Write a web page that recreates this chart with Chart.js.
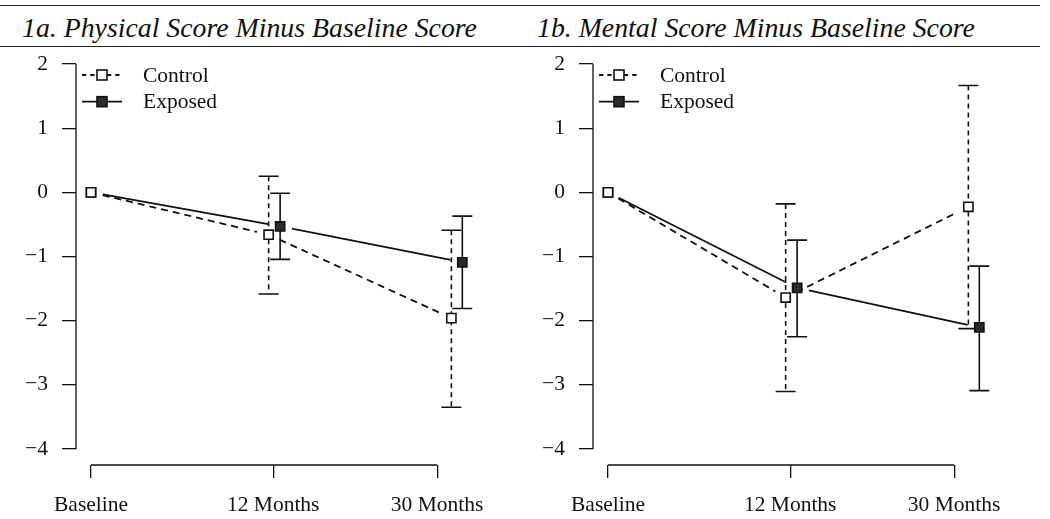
<!DOCTYPE html>
<html>
<head>
<meta charset="utf-8">
<script src="https://cdn.jsdelivr.net/npm/chart.js@4.4.1/dist/chart.umd.min.js"></script>
<style>
  html, body { margin: 0; padding: 0; background: #fff; }
  #marco { position: relative; width: 1050px; height: 519px; overflow: hidden; }
  .raya { position: absolute; left: 0; width: 1040px; height: 0; border-top: 1.5px solid #222; }
  .titulo { position: absolute; top: 14px; font-family: 'Liberation Serif', 'Times New Roman', serif;
            font-style: italic; font-size: 27.8px; line-height: 27px; color: #111; white-space: nowrap; }
  .panel { position: absolute; top: 0; width: 517px; height: 519px; }
</style>
</head>
<body>
<div id="marco">
  <div class="raya" style="top:5px"></div>
  <div class="raya" style="top:46px"></div>
  <div class="titulo" style="left:22px">1a. Physical Score Minus Baseline Score</div>
  <div class="titulo" style="left:537px">1b. Mental Score Minus Baseline Score</div>
  <div class="panel" style="left:0"><canvas id="grafico1"></canvas></div>
  <div class="panel" style="left:517px"><canvas id="grafico2"></canvas></div>
</div>
<script>
// Datos
const etiquetasX = ['Baseline', '12 Months', '30 Months'];
const posicionesX = [0, 1, 1.9];
const ticksY = [2, 1, 0, -1, -2, -3, -4];

// posiciones x de los puntos (ligeramente desplazados por grupo)
const xControl = [0, 0.975, 1.978];
const xExpuesto = [0, 1.038, 2.038];

// 1a. Physical
const fisicoControl = [0, -0.66, -1.96];
const fisicoControlInf = [0, -1.585, -3.35];
const fisicoControlSup = [0, 0.25, -0.59];
const fisicoExpuesto = [0, -0.53, -1.09];
const fisicoExpuestoInf = [0, -1.045, -1.81];
const fisicoExpuestoSup = [0, -0.015, -0.37];

// 1b. Mental
const mentalControl = [0, -1.64, -0.225];
const mentalControlInf = [0, -3.105, -2.125];
const mentalControlSup = [0, -0.18, 1.665];
const mentalExpuesto = [0, -1.49, -2.105];
const mentalExpuestoInf = [0, -2.25, -3.09];
const mentalExpuestoSup = [0, -0.745, -1.15];

const FUENTE = "'Liberation Serif', 'Times New Roman', serif";
const NEGRO = '#111';

// Líneas con hueco alrededor de cada punto y barras de error
const pluginBarras = {
    id: 'barrasError',
    beforeDatasetsDraw(chart) {
        const ctx = chart.ctx;
        const xs = chart.scales.x, ys = chart.scales.y;
        chart.data.datasets.slice().reverse().forEach(ds => {
            ctx.save();
            ctx.strokeStyle = NEGRO;
            ctx.lineWidth = 1.8;
            ctx.setLineDash(ds.guiones);
            const pts = ds.data.map(p => ({ x: xs.getPixelForValue(p.x), y: ys.getPixelForValue(p.y) }));
            for (let i = 0; i < pts.length - 1; i++) {
                const a = pts[i], b = pts[i + 1];
                const dx = b.x - a.x, dy = b.y - a.y, L = Math.hypot(dx, dy);
                const g = 12;
                ctx.beginPath();
                ctx.moveTo(a.x + dx * g / L, a.y + dy * g / L);
                ctx.lineTo(b.x - dx * g / L, b.y - dy * g / L);
                ctx.stroke();
            }
            ctx.lineWidth = 1.6;
            ds.data.forEach((p, i) => {
                if (ds.inf[i] === ds.sup[i]) return;
                const x = xs.getPixelForValue(p.x);
                const y1 = ys.getPixelForValue(ds.inf[i]);
                const y2 = ys.getPixelForValue(ds.sup[i]);
                ctx.setLineDash(ds.guionesBarra);
                ctx.beginPath();
                ctx.moveTo(x, y2);
                ctx.lineTo(x, y1);
                ctx.stroke();
                ctx.setLineDash([]);
                ctx.beginPath();
                ctx.moveTo(x - 10, y1); ctx.lineTo(x + 10, y1);
                ctx.moveTo(x - 10, y2); ctx.lineTo(x + 10, y2);
                ctx.stroke();
            });
            ctx.restore();
        });
    }
};

// Ejes al estilo R: sólo entre el primer y el último tick
const pluginEjes = {
    id: 'ejes',
    afterDraw(chart) {
        const ctx = chart.ctx, area = chart.chartArea;
        const xs = chart.scales.x, ys = chart.scales.y;
        ctx.save();
        ctx.strokeStyle = NEGRO;
        ctx.lineWidth = 1.3;
        ctx.beginPath();
        ctx.moveTo(area.left, ys.getPixelForValue(ticksY[0]));
        ctx.lineTo(area.left, ys.getPixelForValue(ticksY[ticksY.length - 1]));
        ctx.moveTo(xs.getPixelForValue(posicionesX[0]), area.bottom);
        ctx.lineTo(xs.getPixelForValue(posicionesX[posicionesX.length - 1]), area.bottom);
        ctx.stroke();
        ctx.restore();
    }
};

// Leyenda dentro del área del gráfico
const pluginLeyenda = {
    id: 'leyenda',
    afterDraw(chart) {
        const ctx = chart.ctx, area = chart.chartArea;
        chart.data.datasets.forEach((ds, i) => {
            const y = area.top + 27 + i * 26.7;
            const x0 = area.left + 6, x1 = area.left + 46, xm = (x0 + x1) / 2;
            ctx.save();
            ctx.strokeStyle = NEGRO;
            ctx.lineWidth = 1.8;
            ctx.setLineDash(ds.guionesLeyenda);
            ctx.beginPath();
            ctx.moveTo(x0, y);
            ctx.lineTo(x1, y);
            ctx.stroke();
            ctx.setLineDash([]);
            const s = 5;
            ctx.fillStyle = ds.pointBackgroundColor;
            ctx.lineWidth = 1.6;
            ctx.fillRect(xm - s, y - s, 2 * s, 2 * s);
            ctx.strokeRect(xm - s, y - s, 2 * s, 2 * s);
            ctx.fillStyle = NEGRO;
            ctx.font = '21.5px ' + FUENTE;
            ctx.textBaseline = 'middle';
            ctx.textAlign = 'left';
            ctx.fillText(ds.label, area.left + 67, y + 1);
            ctx.restore();
        });
    }
};

function puntos(xs, ys) {
    return xs.map((x, i) => ({ x: x, y: ys[i] }));
}

function crearGrafico(id, control, controlInf, controlSup, expuesto, expuestoInf, expuestoSup) {
    const ctx = document.getElementById(id).getContext('2d');
    return new Chart(ctx, {
        type: 'scatter',
        data: {
            datasets: [{
                label: 'Control',
                data: puntos(xControl, control),
                inf: controlInf,
                sup: controlSup,
                guiones: [7, 5],
                guionesBarra: [5, 4],
                guionesLeyenda: [4.3, 4],
                pointStyle: 'rect',
                pointRadius: 6.5,
                pointBorderWidth: 1.6,
                pointBorderColor: NEGRO,
                pointBackgroundColor: '#ffffff',
                showLine: false
            }, {
                label: 'Exposed',
                data: puntos(xExpuesto, expuesto),
                inf: expuestoInf,
                sup: expuestoSup,
                guiones: [],
                guionesBarra: [],
                guionesLeyenda: [],
                pointStyle: 'rect',
                pointRadius: 6.5,
                pointBorderWidth: 1.6,
                pointBorderColor: NEGRO,
                pointBackgroundColor: '#2a2a2a',
                showLine: false
            }]
        },
        options: {
            responsive: true,
            maintainAspectRatio: false,
            animation: false,
            layout: { padding: { left: 0, right: 27, top: 48, bottom: 0 } },
            plugins: {
                legend: { display: false },
                tooltip: { enabled: false }
            },
            scales: {
                x: {
                    type: 'linear',
                    min: -0.0824,
                    max: 2.19,
                    afterBuildTicks: axis => { axis.ticks = posicionesX.map(v => ({ value: v })); },
                    afterFit: scale => { scale.height = 54; },
                    border: { display: false },
                    grid: { drawOnChartArea: false, drawTicks: true, tickLength: 13, color: NEGRO, lineWidth: 1.3 },
                    ticks: {
                        autoSkip: false,
                        maxRotation: 0,
                        padding: 14,
                        color: NEGRO,
                        font: { family: FUENTE, size: 21.5 },
                        callback: (valor, indice) => etiquetasX[indice]
                    }
                },
                y: {
                    min: -4.25,
                    max: 2.25,
                    afterBuildTicks: axis => { axis.ticks = ticksY.map(v => ({ value: v })); },
                    afterFit: scale => { scale.width = 76; },
                    border: { display: false },
                    grid: { drawOnChartArea: false, drawTicks: true, tickLength: 14, color: NEGRO, lineWidth: 1.3 },
                    ticks: {
                        padding: 14,
                        color: NEGRO,
                        font: { family: FUENTE, size: 21.5 },
                        callback: valor => valor < 0 ? '\u2212' + Math.abs(valor) : String(valor)
                    }
                }
            }
        },
        plugins: [pluginBarras, pluginEjes, pluginLeyenda]
    });
}

document.addEventListener('DOMContentLoaded', function () {
    crearGrafico('grafico1', fisicoControl, fisicoControlInf, fisicoControlSup,
        fisicoExpuesto, fisicoExpuestoInf, fisicoExpuestoSup);
    crearGrafico('grafico2', mentalControl, mentalControlInf, mentalControlSup,
        mentalExpuesto, mentalExpuestoInf, mentalExpuestoSup);
});
</script>
</body>
</html>
